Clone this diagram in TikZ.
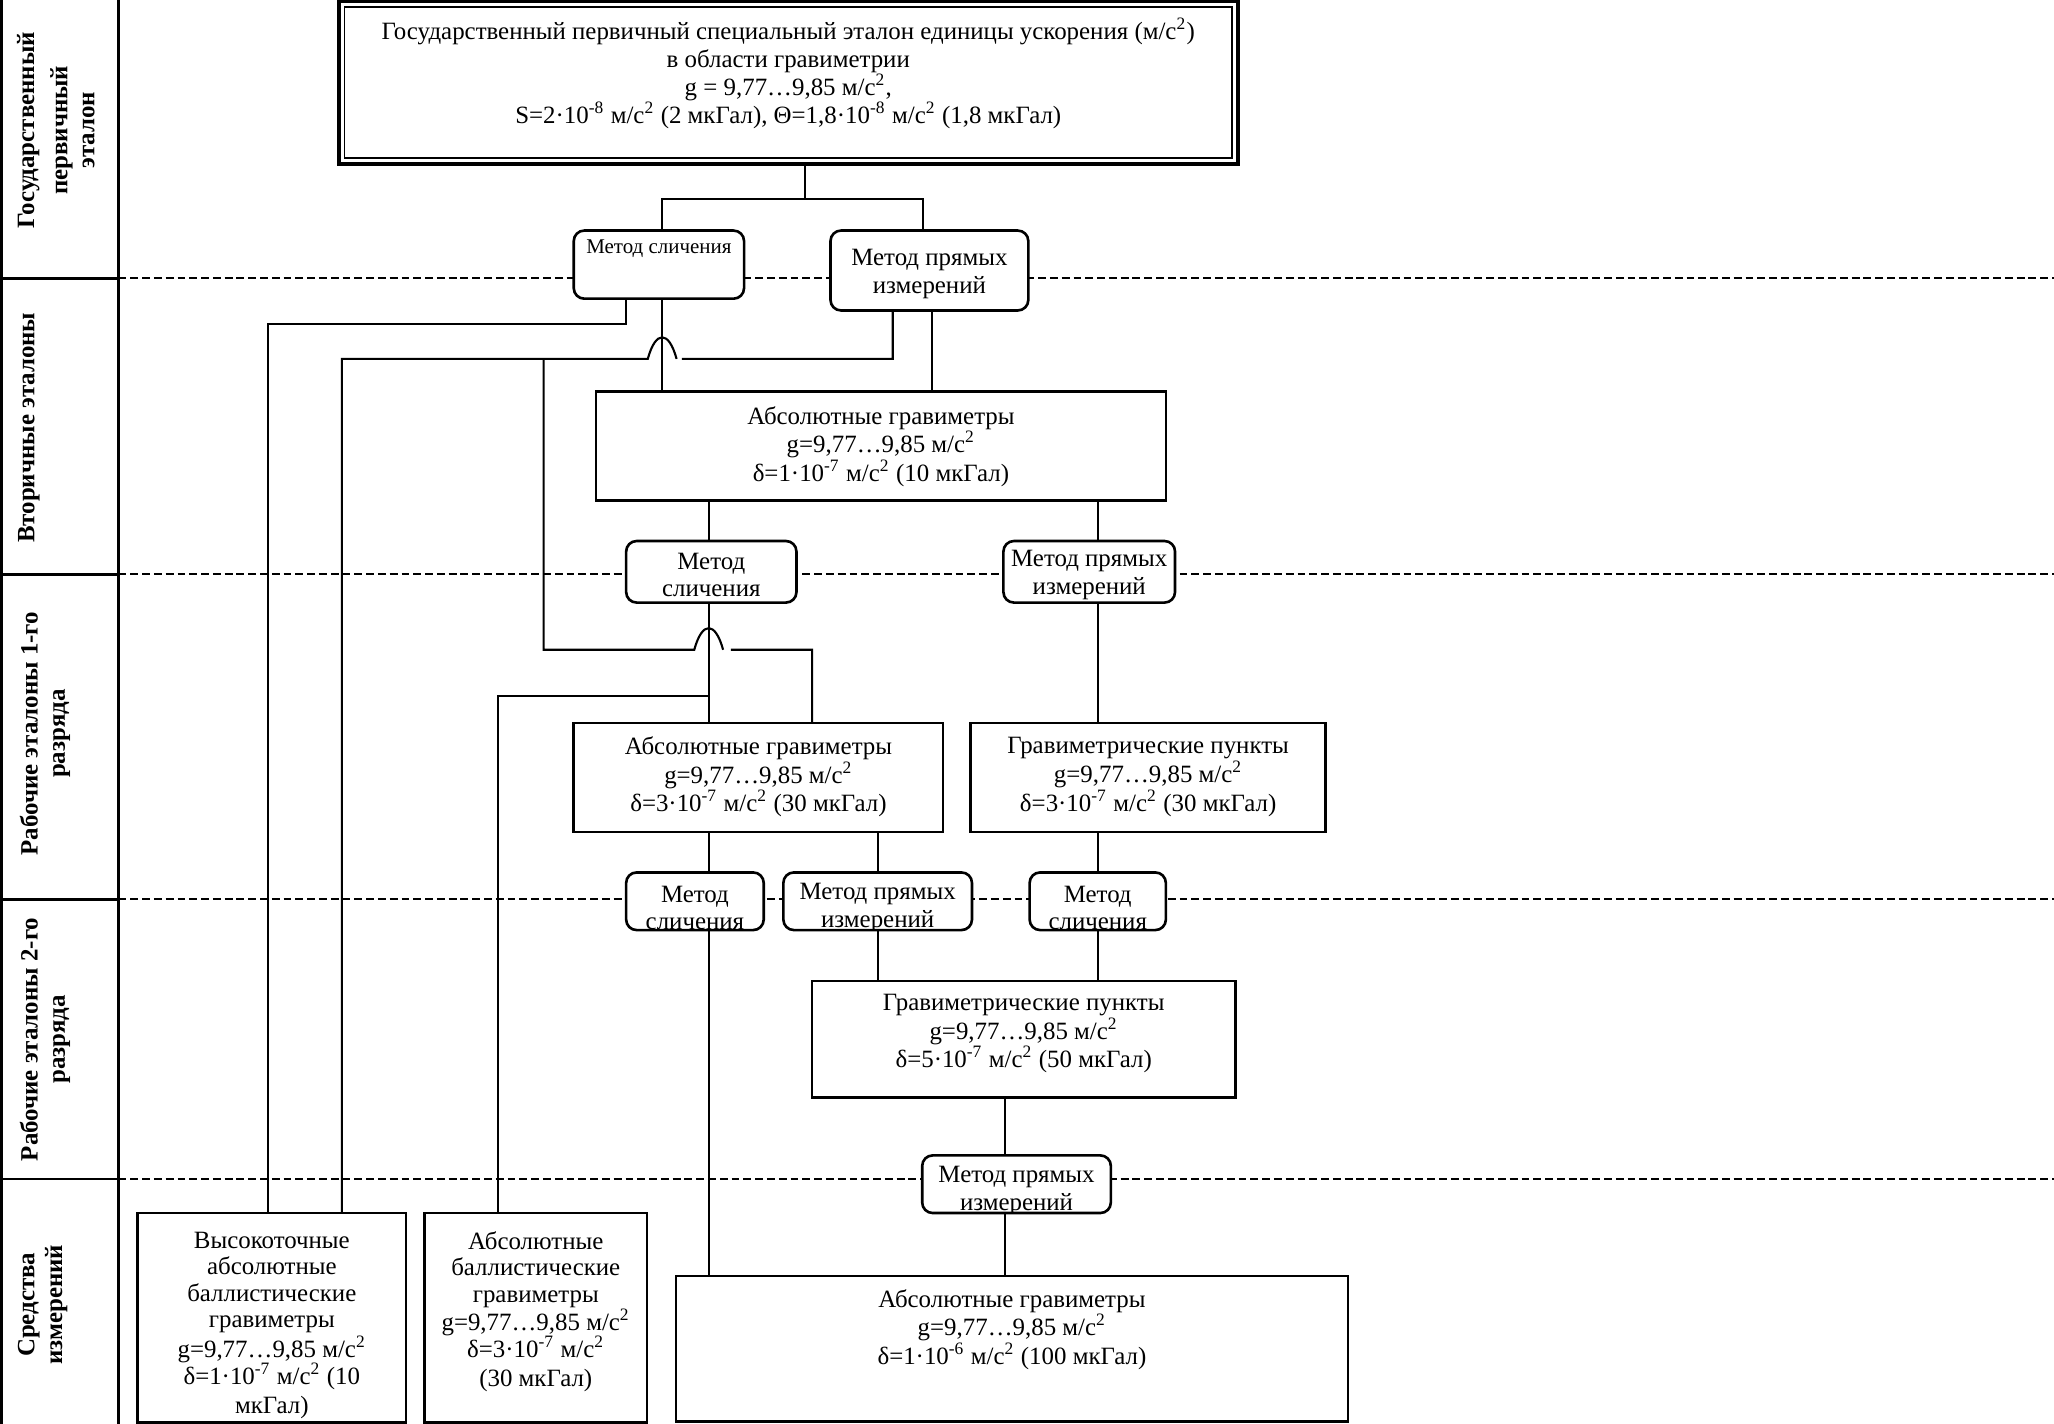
\documentclass[tikz,border=0pt]{standalone}
\usepackage{fontspec}
\setmainfont{Liberation Serif}
\usetikzlibrary{fit,calc}
\newcommand\nolsk{\lineskiplimit=-10pt\relax}
\newcommand\fsz[1]{\fontsize{9.5}{#1}\selectfont\nolsk}
\begin{document}
\begin{tikzpicture}[x=0.5pt,y=-0.5pt,
  box/.style={draw, line width=1pt, fill=white, inner sep=0pt, outer sep=0pt},
  mbox/.style={box, rounded corners=4pt},
  conn/.style={line width=0.8pt},
  sepline/.style={line width=0.8pt, dash pattern=on 3pt off 1.5pt},
  gridline/.style={line width=1pt},
  txt/.style={align=center, inner sep=0pt, font=\fsz{11}},
  lbl/.style={rotate=90, inner sep=0pt, font=\fontsize{9.5}{12}\selectfont\bfseries},
]
\useasboundingbox (0,0) rectangle (1568,1087);
\clip (0,0) rectangle (1568,1087);

% grid
\draw[gridline] (1,0) -- (1,1087);
\draw[gridline] (90.5,0) -- (90.5,1087);
\foreach \yy in {212.5,438.5,686.5,900}{
  \draw[gridline] (0,\yy) -- (90.5,\yy);
  \draw[sepline] (90.5,\yy) -- (1568,\yy);
}

% row labels
\node[lbl] (L1a) at (21.6,99.5) {Государственный};
\node[lbl] (L1b) at (47,99.5) {первичный};
\node[lbl] (L1c) at (67.6,99.5) {эталон};
\node[lbl] (L2) at (22,326.5) {Вторичные эталоны};
\node[lbl] (L3a) at (22,560) {Рабочие эталоны 1-го};
\node[lbl] (L3b) at (47,560) {разряда};
\node[lbl] (L4a) at (22,793.5) {Рабочие эталоны 2-го};
\node[lbl] (L4b) at (47,793.5) {разряда};
\node[lbl] (L5a) at (22,996) {Средства};
\node[lbl] (L5b) at (43,996) {измерений};

% boxes
\node[box, line width=1.6pt, fit={(258.5,1) (945,125)}] (top) {};
\draw[line width=0.7pt] ($(top.north west)+(4.5,4.5)$) rectangle ($(top.south east)+(-4.5,-4.5)$);
\node[mbox, fit={(438,176) (568,228)}] (m1) {};
\node[mbox, fit={(634,176) (785,237)}] (m2) {};
\node[box, fit={(455,299) (890,382)}] (abs2) {};
\node[mbox, fit={(478,413) (608,460)}] (m3) {};
\node[mbox, fit={(766,413) (897,460)}] (m4) {};
\node[box, fit={(438,552) (720,635)}] (abs1) {};
\node[box, fit={(741,552) (1012,635)}] (gp1) {};
\node[mbox, fit={(478,666) (583,710)}] (m5) {};
\node[mbox, fit={(598,666) (742,710)}] (m6) {};
\node[mbox, fit={(786,666) (890,710)}] (m7) {};
\node[box, fit={(620,749) (943,838)}] (gp2) {};
\node[mbox, fit={(704,882) (848,926)}] (m8) {};
\node[box, fit={(105,926) (310,1086)}] (hi) {};
\node[box, fit={(324,926) (494,1086)}] (ball) {};
\node[box, fit={(516,974) (1029,1085)}] (absF) {};

% texts
\node[txt, font=\fsz{10.75}] (topt) at (601.75,56) {Государственный первичный специальный эталон единицы ускорения (м/с\textsuperscript{2})\\в области гравиметрии\\g = 9,77…9,85 м/с\textsuperscript{2},\\S=2·10\textsuperscript{-8} м/с\textsuperscript{2} (2 мкГал), Θ=1,8·10\textsuperscript{-8} м/с\textsuperscript{2} (1,8 мкГал)};
\node[txt, font=\fontsize{8}{9}\selectfont] (m1t) at (503,190) {Метод сличения};
\node[txt, font=\fsz{10.75}] (m2t) at (709.5,209) {Метод прямых\\измерений};
\node[txt] (abs2t) at (672.5,341) {Абсолютные гравиметры\\g=9,77…9,85 м/с\textsuperscript{2}\\δ=1·10\textsuperscript{-7} м/с\textsuperscript{2} (10 мкГал)};
\node[txt, font=\fsz{10.5}] (m3t) at (543,439) {Метод\\сличения};
\node[txt, font=\fsz{10.5}] (m4t) at (831.5,439) {Метод прямых\\измерений};
\node[txt] (abs1t) at (579,593) {Абсолютные гравиметры\\g=9,77…9,85 м/с\textsuperscript{2}\\δ=3·10\textsuperscript{-7} м/с\textsuperscript{2} (30 мкГал)};
\node[txt] (gp1t) at (876.5,593) {Гравиметрические пункты\\g=9,77…9,85 м/с\textsuperscript{2}\\δ=3·10\textsuperscript{-7} м/с\textsuperscript{2} (30 мкГал)};
\begin{scope}
  \clip (m5.north west) rectangle (m5.south east);
  \node[txt, font=\fsz{10.5}] (m5t) at (530.5,693) {Метод\\сличения};
\end{scope}
\begin{scope}
  \clip (m6.north west) rectangle (m6.south east);
  \node[txt, font=\fsz{10.5}] (m6t) at (670,693) {Метод прямых\\измерений};
\end{scope}
\begin{scope}
  \clip (m7.north west) rectangle (m7.south east);
  \node[txt, font=\fsz{10.5}] (m7t) at (838,693) {Метод\\сличения};
\end{scope}
\node[txt] (gp2t) at (781.5,789) {Гравиметрические пункты\\g=9,77…9,85 м/с\textsuperscript{2}\\δ=5·10\textsuperscript{-7} м/с\textsuperscript{2} (50 мкГал)};
\begin{scope}
  \clip (m8.north west) rectangle (m8.south east);
  \node[txt, font=\fsz{10.75}] (m8t) at (776,909) {Метод прямых\\измерений};
\end{scope}
\node[txt, anchor=north, font=\fsz{10}] (hit) at (207.5,940.4) {Высокоточные\\абсолютные\\баллистические\\гравиметры\\[1.5pt]g=9,77…9,85 м/с\textsuperscript{2}\\[0.5pt]δ=1·10\textsuperscript{-7} м/с\textsuperscript{2} (10\\[0.8pt]мкГал)};
\node[txt, anchor=north, font=\fsz{10}] (ballt) at (409,940) {Абсолютные\\баллистические\\гравиметры\\[0.8pt]g=9,77…9,85 м/с\textsuperscript{2}\\[0.2pt]δ=3·10\textsuperscript{-7} м/с\textsuperscript{2}\\[1.3pt](30 мкГал)};
\node[txt, font=\fsz{10.75}] (absFt) at (772.5,1015) {Абсолютные гравиметры\\g=9,77…9,85 м/с\textsuperscript{2}\\δ=1·10\textsuperscript{-6} м/с\textsuperscript{2} (100 мкГал)};

% column / row coordinates
\coordinate (c204) at (204.5,0);
\coordinate (c261) at (261,0);
\coordinate (c380) at (380,0);
\coordinate (c415) at (415,0);
\coordinate (c478) at (478,0);
\coordinate (c505) at (505.5,0);
\coordinate (c541) at (541,0);
\coordinate (c615) at (614.5,0);
\coordinate (c620) at (620,0);
\coordinate (c670) at (670.5,0);
\coordinate (c682) at (681.5,0);
\coordinate (c705) at (704.5,0);
\coordinate (c711) at (711.5,0);
\coordinate (c767) at (767,0);
\coordinate (c838) at (838,0);
\coordinate (r152) at (0,152);
\coordinate (r247) at (0,247);
\coordinate (r274) at (0,274);
\coordinate (r496) at (0,496);
\coordinate (r531) at (0,531);
\coordinate (h1) at (c505 |- r274);
\coordinate (h2) at (c541 |- r496);

% connectors
\draw[conn] (top.south -| c615) -- (c615 |- r152);
\draw[conn] (m1.north -| c505) |- (r152 -| c705) -- (m2.north -| c705);
\draw[conn] (m1.south -| c478) -- (c478 |- r247) -| (hi.north -| c204);
\draw[conn] (m1.south -| c505) -- (abs2.north -| c505);
\draw[conn] (m2.south -| c682) |- ($(h1)+(15,0)$)
  ($(h1)+(11,0)$) .. controls ($(h1)+(5,-22)$) and ($(h1)+(-5,-22)$) .. ($(h1)+(-11,0)$)
  -| (hi.north -| c261);
\draw[conn] (c415 |- r274) -- (c415 |- r496) -- ($(h2)+(-11,0)$)
  .. controls ($(h2)+(-5,-22)$) and ($(h2)+(5,-22)$) .. ($(h2)+(11,0)$)
  ($(h2)+(17,0)$) -| (abs1.north -| c620);
\draw[conn] (m2.south -| c711) -- (abs2.north -| c711);
\draw[conn] (abs2.south -| c541) -- (m3.north -| c541);
\draw[conn] (m3.south -| c541) -- (abs1.north -| c541);
\draw[conn] (c541 |- r531) -| (ball.north -| c380);
\draw[conn] (abs2.south -| c838) -- (m4.north -| c838);
\draw[conn] (m4.south -| c838) -- (gp1.north -| c838);
\draw[conn] (abs1.south -| c541) -- (m5.north -| c541);
\draw[conn] (abs1.south -| c670) -- (m6.north -| c670);
\draw[conn] (gp1.south -| c838) -- (m7.north -| c838);
\draw[conn] (m5.south -| c541) -- (absF.north -| c541);
\draw[conn] (m6.south -| c670) -- (gp2.north -| c670);
\draw[conn] (m7.south -| c838) -- (gp2.north -| c838);
\draw[conn] (gp2.south -| c767) -- (m8.north -| c767);
\draw[conn] (m8.south -| c767) -- (absF.north -| c767);
\end{tikzpicture}
\end{document}
